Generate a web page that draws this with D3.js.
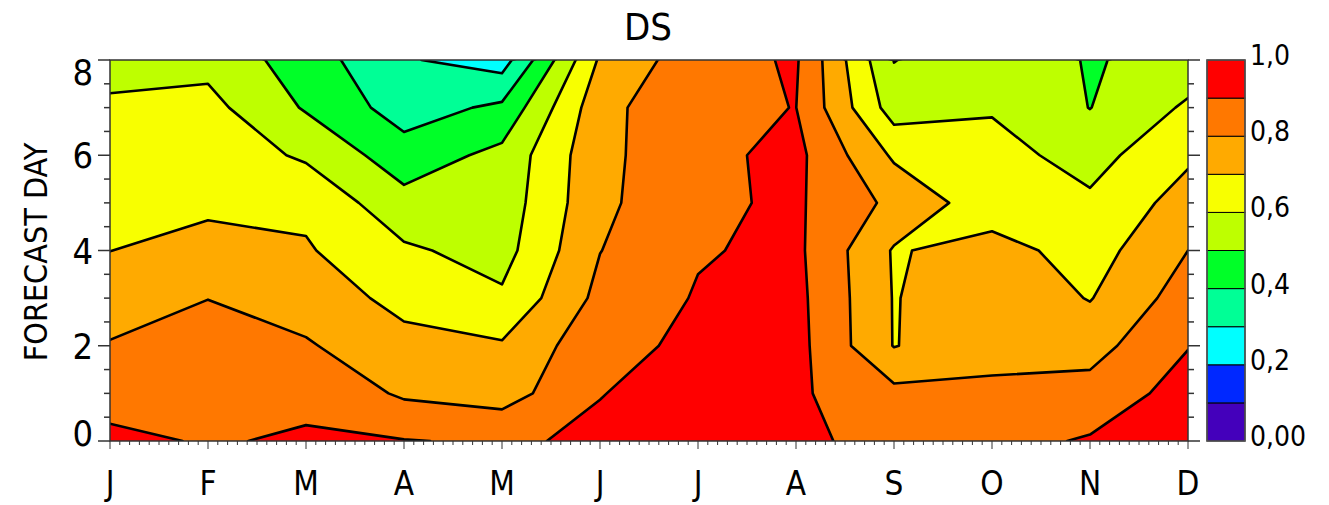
<!DOCTYPE html>
<html>
<head>
<meta charset="utf-8">
<script src="https://cdn.jsdelivr.net/npm/d3@7"></script>
<style>
  body { margin: 0; background: #fff; }
  text { font-family: "Liberation Sans Narrow", "DejaVu Sans Condensed", "Liberation Sans", sans-serif; fill: #000; }
</style>
</head>
<body>
<svg id="chart" width="1329" height="505"></svg>
<script>
// DS score by month (columns) and forecast day 0..8 (index)
var months = ["J", "F", "M", "A", "M", "J", "J", "A", "S", "O", "N", "D"];
var days = [0, 1, 2, 3, 4, 5, 6, 7, 8];

var dsJan = [0.920, 0.865, 0.806, 0.757, 0.699, 0.670, 0.645, 0.610, 0.577];
var dsFeb = [0.893, 0.860, 0.830, 0.799, 0.735, 0.680, 0.660, 0.630, 0.570];
var dsMar = [0.910, 0.880, 0.810, 0.755, 0.710, 0.677, 0.585, 0.490, 0.450];
var dsApr = [0.904, 0.785, 0.730, 0.671, 0.615, 0.534, 0.444, 0.354, 0.310];
var dsMay = [0.889, 0.755, 0.711, 0.615, 0.563, 0.544, 0.528, 0.420, 0.254];
var dsJun = [0.913, 0.898, 0.870, 0.827, 0.798, 0.777, 0.774, 0.766, 0.714];
var dsJul = [0.950, 0.927, 0.920, 0.908, 0.892, 0.883, 0.873, 0.887, 0.860];
var dsAug = [0.937, 0.915, 0.933, 0.928, 0.921, 0.914, 0.927, 0.901, 0.911];
var dsSep = [0.840, 0.827, 0.696, 0.695, 0.691, 0.776, 0.685, 0.552, 0.497];
var dsOct = [0.867, 0.815, 0.775, 0.770, 0.740, 0.641, 0.635, 0.591, 0.580];
var dsNov = [0.910, 0.836, 0.763, 0.695, 0.656, 0.617, 0.563, 0.498, 0.491];
var dsDec = [0.990, 0.941, 0.896, 0.848, 0.800, 0.742, 0.683, 0.615, 0.541];

var levels = [0.1, 0.2, 0.3, 0.4, 0.5, 0.6, 0.7, 0.8, 0.9];
var bandColors = ["#4400bb", "#0028ff", "#00ffff", "#00ff96", "#00ff28",
                  "#beff00", "#f8ff00", "#ffaa00", "#ff7800", "#ff0000"];
var cbarValues = [0, 0.2, 0.4, 0.6, 0.8, 1.0];
var cbarLabels = ["0,00", "0,2", "0,4", "0,6", "0,8", "1,0"];
var dayTicks = [0, 2, 4, 6, 8];

var columns = [dsJan, dsFeb, dsMar, dsApr, dsMay, dsJun, dsJul, dsAug, dsSep, dsOct, dsNov, dsDec];

var svg = d3.select("#chart");
var plot = {left: 110, right: 1188, top: 60, bottom: 441};

var x = d3.scaleLinear().domain([0, months.length - 1]).range([plot.left, plot.right]);
var y = d3.scaleLinear().domain([0, 8]).range([plot.bottom, plot.top]);

// grid for d3.contours: row = forecast day, column = month
var nx = months.length, ny = days.length;
var grid = new Array(nx * ny);
for (var j = 0; j < ny; j++) {
    for (var i = 0; i < nx; i++) {
        grid[j * nx + i] = columns[i][j];
    }
}

var contours = d3.contours().size([nx, ny]).thresholds(levels)(grid);

// contour coords put sample i at i+0.5
var toScreen = d3.geoTransform({
    point: function (px, py) {
        this.stream.point(x(px - 0.5), y(py - 0.5));
    }
});
var path = d3.geoPath(toScreen);

svg.append("clipPath").attr("id", "plotclip")
    .append("rect")
    .attr("x", plot.left).attr("y", plot.top)
    .attr("width", plot.right - plot.left).attr("height", plot.bottom - plot.top);

var g = svg.append("g").attr("clip-path", "url(#plotclip)");

g.append("rect")
    .attr("x", plot.left).attr("y", plot.top)
    .attr("width", plot.right - plot.left).attr("height", plot.bottom - plot.top)
    .attr("fill", bandColors[0]);

g.selectAll("path.band")
    .data(contours)
    .enter()
    .append("path")
    .attr("class", "band")
    .attr("d", path)
    .attr("fill", function (d, k) { return bandColors[k + 1]; })
    .attr("stroke", "none");

g.selectAll("path.iso")
    .data(contours)
    .enter()
    .append("path")
    .attr("class", "iso")
    .attr("d", path)
    .attr("fill", "none")
    .attr("stroke", "#000")
    .attr("stroke-width", 2.6)
    .attr("stroke-linejoin", "round");

// frame
svg.append("rect")
    .attr("x", plot.left).attr("y", plot.top)
    .attr("width", plot.right - plot.left).attr("height", plot.bottom - plot.top)
    .attr("fill", "none").attr("stroke", "#333").attr("stroke-width", 1.5);

// day ticks every half day, long at labelled days
var halfDays = d3.range(0, 8.01, 0.5);
[plot.left, plot.right].forEach(function (edge, side) {
    var dir = side === 0 ? -1 : 1;
    svg.selectAll(null)
        .data(halfDays)
        .enter()
        .append("line")
        .attr("x1", edge)
        .attr("x2", function (d) { return edge + dir * (d % 2 === 0 ? 12 : 6); })
        .attr("y1", function (d) { return y(d); })
        .attr("y2", function (d) { return y(d); })
        .attr("stroke", "#333").attr("stroke-width", 1.5);
});

// month ticks with 10 subdivisions
var monthSteps = d3.range(0, (months.length - 1) * 10 + 1).map(function (k) { return k / 10; });
svg.selectAll(null)
    .data(monthSteps)
    .enter()
    .append("line")
    .attr("x1", function (d) { return x(d); })
    .attr("x2", function (d) { return x(d); })
    .attr("y1", plot.bottom)
    .attr("y2", function (d, k) { return plot.bottom + (k % 10 === 0 ? 8 : 4); })
    .attr("stroke", "#333").attr("stroke-width", 1);

svg.selectAll(null)
    .data(months)
    .enter()
    .append("text")
    .attr("x", function (d, k) { return x(k); })
    .attr("y", 495)
    .attr("text-anchor", "middle")
    .attr("font-size", 33)
    .text(function (d) { return d; });

svg.selectAll(null)
    .data(dayTicks)
    .enter()
    .append("text")
    .attr("x", 93)
    .attr("y", function (d) { return Math.min(Math.max(y(d), plot.top + 12), plot.bottom - 8) + 13; })
    .attr("text-anchor", "end")
    .attr("font-size", 36)
    .text(function (d) { return d; });

svg.append("text")
    .attr("transform", "translate(47,252) rotate(-90)")
    .attr("text-anchor", "middle")
    .attr("font-size", 32)
    .text("FORECAST DAY");

svg.append("text")
    .attr("x", 648).attr("y", 40)
    .attr("text-anchor", "middle")
    .attr("font-size", 38)
    .text("DS");

// colour bar
var cb = {left: 1207, width: 38};
var cy = d3.scaleLinear().domain([0, 1]).range([plot.bottom, plot.top]);
var bandEdges = [0].concat(levels).concat([1]);
svg.selectAll(null)
    .data(bandColors)
    .enter()
    .append("rect")
    .attr("x", cb.left)
    .attr("y", function (d, k) { return cy(bandEdges[k + 1]); })
    .attr("width", cb.width)
    .attr("height", function (d, k) { return cy(bandEdges[k]) - cy(bandEdges[k + 1]); })
    .attr("fill", function (d) { return d; })
    .attr("stroke", "#000").attr("stroke-width", 1);

svg.append("rect")
    .attr("x", cb.left).attr("y", plot.top)
    .attr("width", cb.width).attr("height", plot.bottom - plot.top)
    .attr("fill", "none").attr("stroke", "#555").attr("stroke-width", 1.5);

svg.selectAll(null)
    .data(cbarValues)
    .enter()
    .append("text")
    .attr("x", 1250)
    .attr("y", function (d) { return cy(d) + 5; })
    .attr("font-size", 28)
    .text(function (d, k) { return cbarLabels[k]; });
</script>
</body>
</html>
